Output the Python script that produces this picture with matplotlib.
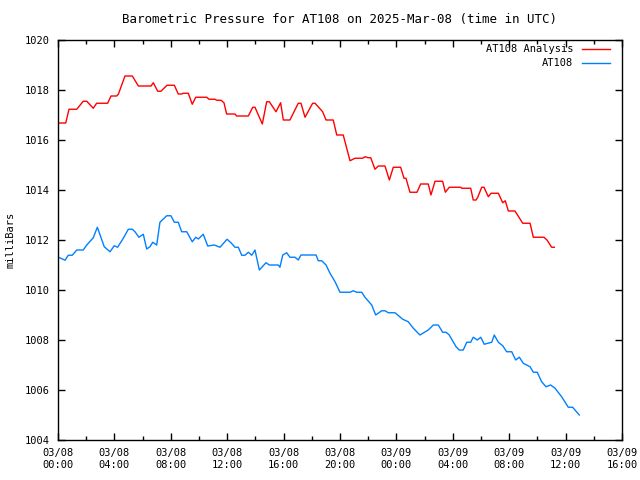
import numpy as np
import pandas as pd
import matplotlib
matplotlib.use("Agg")
import matplotlib.pyplot as plt
import matplotlib.dates as mdates

# hours since 2025-03-08 00:00 UTC, pressure in mb
analysis_hours = [0.0, 0.55, 0.78, 1.33, 1.79, 2.04, 2.50, 2.74, 3.52, 3.76, 4.16, 4.28,
                  4.75, 5.27, 5.70, 6.60, 6.76, 7.07, 7.30, 7.73, 8.25, 8.53, 8.77, 8.89,
                  9.24, 9.52, 9.77, 10.55, 10.71, 11.13, 11.26, 11.56, 11.77, 11.96, 12.55,
                  12.67, 13.50, 13.81, 13.97, 14.49, 14.80, 14.99, 15.46, 15.79, 15.98,
                  16.45, 17.04, 17.23, 17.52, 18.06, 18.23, 18.77, 19.01, 19.52, 19.77,
                  20.23, 20.71, 21.06, 21.61, 21.77, 22.01, 22.18, 22.48, 22.72, 23.19,
                  23.50, 23.78, 24.30, 24.54, 24.68, 24.96, 25.46, 25.72, 26.26, 26.45,
                  26.74, 27.28, 27.47, 27.75, 28.56, 28.63, 29.27, 29.45, 29.65, 29.77,
                  30.05, 30.21, 30.52, 30.71, 31.23, 31.54, 31.72, 31.94, 32.41, 32.96,
                  33.48, 33.71, 34.47, 34.68, 35.01, 35.20]
analysis_mb = [1016.68, 1016.68, 1017.23, 1017.23, 1017.55, 1017.55, 1017.27, 1017.47,
               1017.47, 1017.76, 1017.76, 1017.83, 1018.56, 1018.56, 1018.16, 1018.16,
               1018.29, 1017.95, 1017.95, 1018.19, 1018.19, 1017.84, 1017.84, 1017.87,
               1017.87, 1017.43, 1017.71, 1017.71, 1017.63, 1017.63, 1017.59, 1017.59,
               1017.49, 1017.04, 1017.04, 1016.96, 1016.96, 1017.31, 1017.31, 1016.64,
               1017.53, 1017.53, 1017.13, 1017.49, 1016.80, 1016.80, 1017.47, 1017.47,
               1016.91, 1017.47, 1017.47, 1017.13, 1016.80, 1016.80, 1016.20, 1016.20,
               1015.17, 1015.27, 1015.27, 1015.33, 1015.29, 1015.29, 1014.83, 1014.96,
               1014.96, 1014.40, 1014.91, 1014.91, 1014.47, 1014.47, 1013.91, 1013.91,
               1014.24, 1014.24, 1013.80, 1014.35, 1014.35, 1013.91, 1014.11, 1014.11,
               1014.07, 1014.07, 1013.60, 1013.60, 1013.71, 1014.11, 1014.11, 1013.73,
               1013.87, 1013.87, 1013.49, 1013.57, 1013.16, 1013.16, 1012.67, 1012.67,
               1012.11, 1012.11, 1012.00, 1011.71, 1011.71]

obs_hours = [0.0, 0.50, 0.73, 1.01, 1.33, 1.79, 2.04, 2.50, 2.79, 3.03, 3.28, 3.69, 3.99,
             4.23, 4.63, 4.99, 5.27, 5.46, 5.74, 6.05, 6.29, 6.52, 6.72, 7.00, 7.23, 7.71,
             8.01, 8.25, 8.53, 8.77, 9.13, 9.52, 9.77, 9.95, 10.30, 10.62, 11.09, 11.49,
             11.99, 12.27, 12.55, 12.79, 13.03, 13.26, 13.50, 13.74, 13.97, 14.28, 14.75,
             14.99, 15.62, 15.74, 15.94, 16.22, 16.45, 16.81, 17.04, 17.23, 18.30, 18.46,
             18.70, 19.01, 19.29, 19.65, 20.00, 20.71, 20.94, 21.18, 21.54, 21.77, 22.25,
             22.53, 22.96, 23.19, 23.43, 23.90, 24.45, 24.84, 25.20, 25.67, 26.26, 26.62,
             26.97, 27.28, 27.52, 27.75, 28.23, 28.46, 28.74, 28.99, 29.27, 29.45, 29.74,
             29.98, 30.23, 30.76, 30.94, 31.23, 31.54, 31.82, 32.18, 32.46, 32.72, 33.00,
             33.48, 33.71, 33.99, 34.30, 34.61, 34.94, 35.25, 35.72, 36.19, 36.50, 36.97]
obs_mb = [1011.32, 1011.19, 1011.39, 1011.39, 1011.60, 1011.60, 1011.80, 1012.09, 1012.51,
          1012.13, 1011.73, 1011.53, 1011.77, 1011.71, 1012.07, 1012.43, 1012.43, 1012.33,
          1012.11, 1012.23, 1011.64, 1011.73, 1011.91, 1011.80, 1012.71, 1012.97, 1012.97,
          1012.71, 1012.71, 1012.33, 1012.33, 1011.93, 1012.11, 1012.04, 1012.23, 1011.76,
          1011.80, 1011.71, 1012.03, 1011.89, 1011.71, 1011.71, 1011.39, 1011.39, 1011.51,
          1011.39, 1011.60, 1010.80, 1011.09, 1011.00, 1011.00, 1010.91, 1011.40, 1011.49,
          1011.31, 1011.31, 1011.20, 1011.40, 1011.40, 1011.17, 1011.17, 1011.00, 1010.67,
          1010.33, 1009.91, 1009.91, 1009.97, 1009.91, 1009.91, 1009.71, 1009.40, 1009.00,
          1009.17, 1009.17, 1009.09, 1009.09, 1008.83, 1008.73, 1008.47, 1008.20, 1008.40,
          1008.60, 1008.60, 1008.31, 1008.31, 1008.20, 1007.73, 1007.60, 1007.60, 1007.91,
          1007.91, 1008.11, 1008.00, 1008.11, 1007.83, 1007.91, 1008.20, 1007.91, 1007.77,
          1007.53, 1007.53, 1007.20, 1007.31, 1007.07, 1006.93, 1006.71, 1006.71, 1006.33,
          1006.13, 1006.20, 1006.07, 1005.73, 1005.31, 1005.31, 1005.00]

start = pd.Timestamp("2025-03-08 00:00")
t_analysis = start + pd.to_timedelta(analysis_hours, unit="h")
t_obs = start + pd.to_timedelta(obs_hours, unit="h")

plt.rcParams['font.family'] = ['DejaVu Sans Mono']
plt.rcParams['font.size'] = 7.5

fig = plt.figure(figsize=(6.4, 4.8), dpi=100)
ax = fig.add_axes([58/640, 40/480, 564/640, 400/480])

ax.plot(t_analysis, analysis_mb, color='#ff0000', lw=1, label='AT108 Analysis')
ax.plot(t_obs, obs_mb, color='#0080ff', lw=1, label='AT108')

ax.set_xlim(start, start + pd.Timedelta(hours=40))
ax.set_ylim(1004, 1020)
ax.set_yticks(np.arange(1004, 1021, 2))
ax.xaxis.set_major_locator(mdates.HourLocator(byhour=[0, 4, 8, 12, 16, 20]))
ax.xaxis.set_minor_locator(mdates.HourLocator(byhour=[2, 6, 10, 14, 18, 22]))
ax.xaxis.set_major_formatter(mdates.DateFormatter('%m/%d\n%H:%M'))

ax.tick_params(which='both', direction='in', top=True, right=True, width=1)
ax.tick_params(which='major', length=5, pad=6)
ax.tick_params(which='minor', length=3)
for s in ax.spines.values():
    s.set_linewidth(1)

# y label placed by hand so it sits where the original has it
fig.text(11/640, 0.5, 'milliBars', rotation=90, ha='center', va='center')
ax.set_title('Barometric Pressure for AT108 on 2025-Mar-08 (time in UTC)', pad=12)
ax.legend(loc='upper right', bbox_to_anchor=(1 - 8/564, 1.0), frameon=False,
          markerfirst=False, handlelength=2.7, borderaxespad=0, labelspacing=0.4)

fig.savefig('out.png', dpi=100)
